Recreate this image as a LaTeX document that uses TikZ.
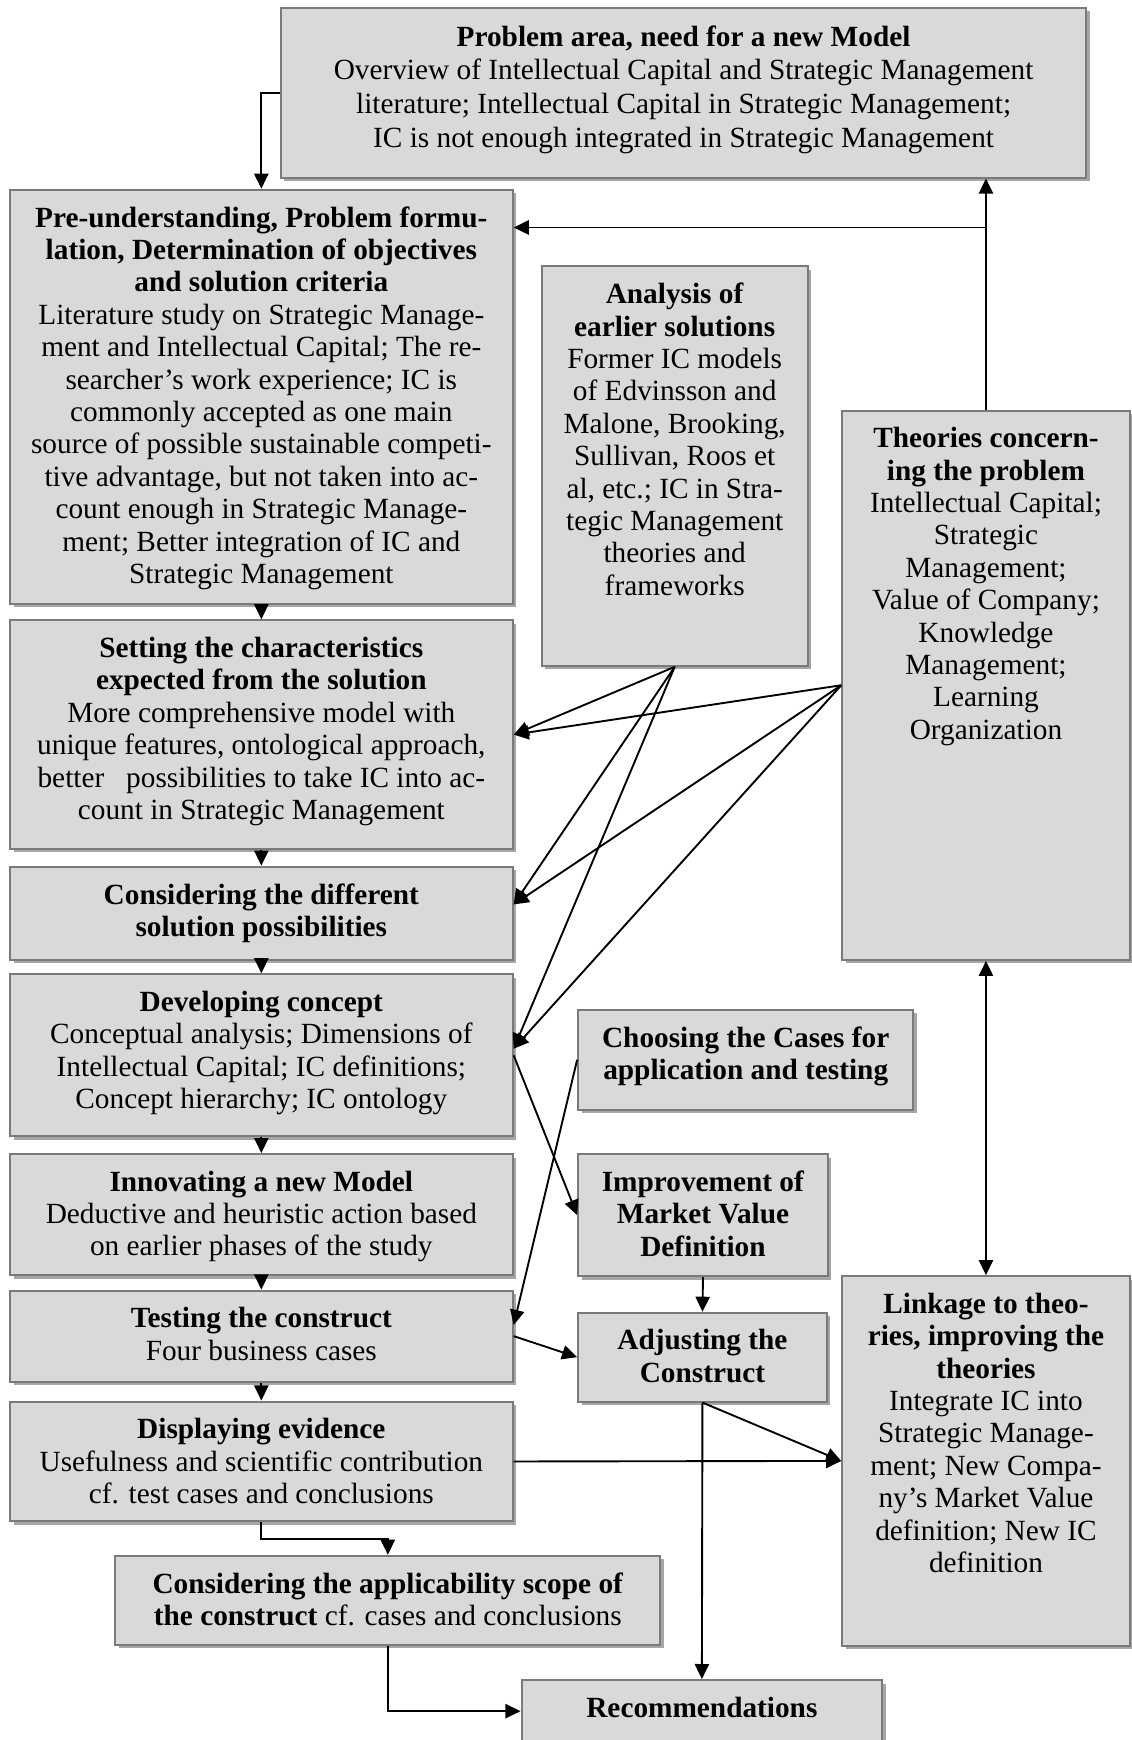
\documentclass[tikz,border=0pt]{standalone}
\usepackage{fontspec}
\setmainfont{Liberation Serif}
\usetikzlibrary{arrows.meta,fit,shadows,calc}
\definecolor{boxfill}{HTML}{D9D9D9}
\definecolor{boxline}{HTML}{7A7A7A}
\definecolor{boxshadow}{HTML}{A6A6A6}

\begin{document}
\begin{tikzpicture}[x=0.5pt,y=-0.5pt,
  box/.style={draw=boxline, line width=0.9pt, fill=boxfill, inner sep=0pt,
    drop shadow={shadow xshift=1.6pt, shadow yshift=-1.6pt, fill=boxshadow, opacity=1}},
  txt/.style={anchor=north, align=center, inner sep=0pt,
    font=\fontsize{13.2}{14.6}\selectfont},
  arr/.style={draw, line width=0.85pt, -{Triangle[length=6.8pt,width=6.4pt]}},
  darr/.style={draw, line width=0.85pt, {Triangle[length=6.8pt,width=6.4pt]}-{Triangle[length=6.8pt,width=6.4pt]}}
]
\clip (0,0) rectangle (1020,1568);
\fill[white] (0,0) rectangle (1020,1568);

% boxes
\node[box, fit={(253,7) (979,160)}] (prob) {};
\node[box, fit={(9,171) (462,544)}] (pre) {};
\node[box, fit={(488,240) (728,600)}] (ana) {};
\node[box, fit={(759,370) (1018,865)}] (theo) {};
\node[box, fit={(9,559) (462,765)}] (set) {};
\node[box, fit={(9,781) (462,865)}] (cons) {};
\node[box, fit={(9,878) (462,1024)}] (dev) {};
\node[box, fit={(521,910) (823,1000)}] (cho) {};
\node[box, fit={(9,1040) (462,1149)}] (inn) {};
\node[box, fit={(521,1040) (746,1150)}] (imp) {};
\node[box, fit={(9,1163) (462,1245)}] (test) {};
\node[box, fit={(521,1183) (745,1263)}] (adj) {};
\node[box, fit={(759,1150) (1018,1483)}] (link) {};
\node[box, fit={(9,1263) (462,1371)}] (disp) {};
\node[box, fit={(104,1402) (595,1482)}] (app) {};
\node[box, fit={(470,1514) (795,1570)}] (rec) {};

% texts
\node[txt, font=\fontsize{13.2}{15.3}\selectfont] (probT) at ([yshift=-8.2pt]prob.north) {\textbf{Problem area, need for a new Model}\\
  Overview of Intellectual Capital and Strategic Management\\
  literature; Intellectual Capital in Strategic Management;\\
  IC is not enough integrated in Strategic Management};
\node[txt] (preT) at ([yshift=-7.8pt]pre.north) {\textbf{Pre-understanding, Problem formu-}\\
  \textbf{lation, Determination of objectives}\\
  \textbf{and solution criteria}\\
  Literature study on Strategic Manage-\\
  ment and Intellectual Capital; The re-\\
  searcher’s work experience; IC is\\
  commonly accepted as one main\\
  source of possible sustainable competi-\\
  tive advantage, but not taken into ac-\\
  count enough in Strategic Manage-\\
  ment; Better integration of IC and\\
  Strategic Management};
\node[txt] (anaT) at ([yshift=-7.8pt]ana.north) {\textbf{Analysis of}\\
  \textbf{earlier solutions}\\
  Former IC models\\
  of Edvinsson and\\
  Malone, Brooking,\\
  Sullivan, Roos et\\
  al, etc.; IC in Stra-\\
  tegic Management\\
  theories and\\
  frameworks};
\node[txt] (theoT) at ([yshift=-7.8pt]theo.north) {\textbf{Theories concern-}\\
  \textbf{ing the problem}\\
  Intellectual Capital;\\
  Strategic\\
  Management;\\
  Value of Company;\\
  Knowledge\\
  Management;\\
  Learning\\
  Organization};
\node[txt] (setT) at ([yshift=-7.8pt]set.north) {\textbf{Setting the characteristics}\\
  \textbf{expected from the solution}\\
  More comprehensive model with\\
  unique features, ontological approach,\\
  better\ \ \ possibilities to take IC into ac-\\
  count in Strategic Management};
\node[txt] (consT) at ([yshift=-7.8pt]cons.north) {\textbf{Considering the different}\\
  \textbf{solution possibilities}};
\node[txt] (devT) at ([yshift=-7.8pt]dev.north) {\textbf{Developing concept}\\
  Conceptual analysis; Dimensions of\\
  Intellectual Capital; IC definitions;\\
  Concept hierarchy; IC ontology};
\node[txt] (choT) at ([yshift=-7.8pt]cho.north) {\textbf{Choosing the Cases for}\\
  \textbf{application and testing}};
\node[txt] (innT) at ([yshift=-7.8pt]inn.north) {\textbf{Innovating a new Model}\\
  Deductive and heuristic action based\\
  on earlier phases of the study};
\node[txt] (impT) at ([yshift=-7.8pt]imp.north) {\textbf{Improvement of}\\
  \textbf{Market Value}\\
  \textbf{Definition}};
\node[txt] (testT) at ([yshift=-7.8pt]test.north) {\textbf{Testing the construct}\\
  Four business cases};
\node[txt] (adjT) at ([yshift=-7.8pt]adj.north) {\textbf{Adjusting the}\\
  \textbf{Construct}};
\node[txt] (linkT) at ([yshift=-7.8pt]link.north) {\textbf{Linkage to theo-}\\
  \textbf{ries, improving the}\\
  \textbf{theories}\\
  Integrate IC into\\
  Strategic Manage-\\
  ment; New Compa-\\
  ny’s Market Value\\
  definition; New IC\\
  definition};
\node[txt] (dispT) at ([yshift=-7.8pt]disp.north) {\textbf{Displaying evidence}\\
  Usefulness and scientific contribution\\
  cf. test cases and conclusions};
\node[txt] (appT) at ([yshift=-7.8pt]app.north) {\textbf{Considering the applicability scope of}\\
  \textbf{the construct} cf. cases and conclusions};
\node[txt] (recT) at ([yshift=-7.8pt]rec.north) {\textbf{Recommendations}};

% connectors
\coordinate (j1) at (888.5,205);
\draw[arr] (prob.west) -| (pre.north);
\draw[arr] (theo.north) -- (theo.north |- prob.south);
\draw[arr] (j1) -- (j1 -| pre.east);

\draw[arr] (pre.south) -- (set.north);
\draw[arr] (set.south) -- (cons.north);
\draw[arr] (cons.south) -- (dev.north);
\draw[arr] (dev.south) -- (inn.north);
\draw[arr] (inn.south) -- (test.north);
\draw[arr] (test.south) -- (disp.north);

\draw[arr] (ana.south) -- (set.east);
\draw[arr] (theo.west) -- (set.east);
\draw[arr] (ana.south) -- ($(cons.east)+(0,-8)$);
\draw[arr] (theo.west) -- ($(cons.east)+(0,-8)$);
\draw[arr] (ana.south) -- ($(dev.east)+(0,-6)$);
\draw[arr] (theo.west) -- ($(dev.east)+(0,-6)$);

\draw[arr] (dev.east) -- (imp.west);
\draw[arr] (cho.west) -- ($(test.east)+(0,-10)$);
\draw[arr] (test.east) -- (adj.west);
\draw[arr] (imp.south) -- (adj.north);
\draw[darr] (theo.south) -- (link.north);
\draw[arr] (adj.south) -- (link.west);
\draw[arr] (disp.east) -- (link.west);
\draw[arr] (adj.south) -- (rec.north);
\draw[arr] (disp.south) -- ++(0,15) -| (app.north);
\draw[arr] (app.south) |- (rec.west);
\end{tikzpicture}
\end{document}
